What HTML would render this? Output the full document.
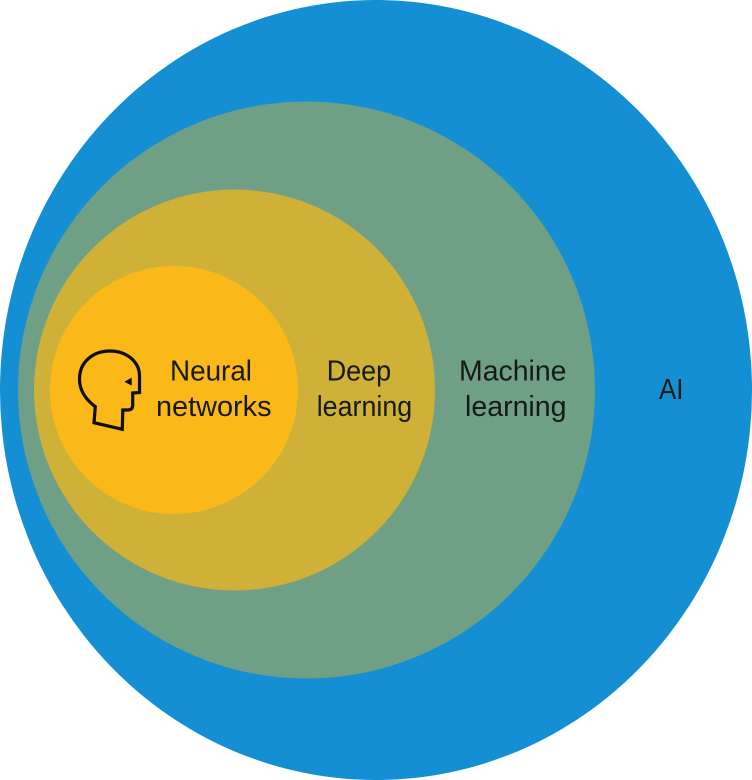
<!DOCTYPE html>
<html>
<head>
<meta charset="utf-8">
<style>
html,body{margin:0;padding:0;background:#fff;width:752px;height:780px;overflow:hidden}
svg{display:block}
text{font-family:"Liberation Sans",sans-serif;font-size:29px;fill:#151a14}
</style>
</head>
<body>
<svg width="752" height="780" viewBox="0 0 752 780" xmlns="http://www.w3.org/2000/svg">
<ellipse cx="376" cy="390" rx="376" ry="390" fill="#148fd3"/>
<circle cx="306.5" cy="390" r="288.5" fill="#6fa086"/>
<circle cx="234.5" cy="390" r="200.5" fill="#cfb138"/>
<circle cx="174" cy="390" r="124" fill="#fbb919"/>
<path d="M122.3 429.3 L94 422.7 L95.3 406.7 C85 399 79.5 390 79.5 379 C79.5 362 93 351 110 351 C127 351 139.5 362 139.5 376 L139.5 392.5 L132.7 393 L132.7 405 C132.7 408.5 131 410 128 410 L122.8 410 Z" fill="none" stroke="#0d0d0a" stroke-width="3.2" stroke-linejoin="miter"/>
<path d="M124.3 381.7 L131.7 377.8 L131.7 385.6 Z" fill="#0d0d0a"/>
<text x="170" y="380.7" textLength="82" lengthAdjust="spacingAndGlyphs">Neural</text>
<text x="156" y="416" textLength="115.5" lengthAdjust="spacingAndGlyphs">networks</text>
<text x="326.7" y="380.7" textLength="64.5" lengthAdjust="spacingAndGlyphs">Deep</text>
<text x="316.7" y="416" textLength="95.5" lengthAdjust="spacingAndGlyphs">learning</text>
<text x="459" y="380.7" textLength="107.5" lengthAdjust="spacingAndGlyphs">Machine</text>
<text x="465" y="416" textLength="101.5" lengthAdjust="spacingAndGlyphs">learning</text>
<text x="659" y="399" textLength="24.5" lengthAdjust="spacingAndGlyphs">AI</text>
</svg>
</body>
</html>
